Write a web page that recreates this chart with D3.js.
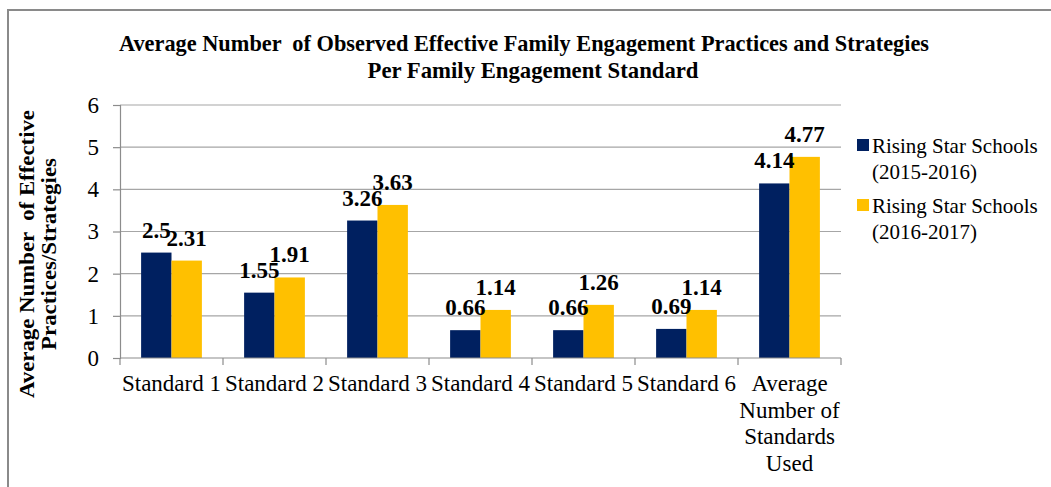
<!DOCTYPE html>
<html>
<head>
<meta charset="utf-8">
<script src="https://cdn.jsdelivr.net/npm/d3@7"></script>
<style>
  html, body { margin: 0; padding: 0; background: #fff; }
  svg { display: block; }
  svg text { font-family: "Times New Roman", "Liberation Serif", "DejaVu Serif", serif; white-space: pre; }
</style>
</head>
<body>
<svg id="chart" width="1051" height="487"></svg>
<script>
const categories = ["Standard 1", "Standard 2", "Standard 3", "Standard 4", "Standard 5", "Standard 6", "Average Number of Standards Used"];
const categoryLines = [["Standard 1"], ["Standard 2"], ["Standard 3"], ["Standard 4"], ["Standard 5"], ["Standard 6"], ["Average", "Number of", "Standards", "Used"]];
const seriesNames = ["Rising Star Schools (2015-2016)", "Rising Star Schools (2016-2017)"];
const legendLines = [["Rising Star Schools", "(2015-2016)"], ["Rising Star Schools", "(2016-2017)"]];
const values2015 = [2.5, 1.55, 3.26, 0.66, 0.66, 0.69, 4.14];
const values2017 = [2.31, 1.91, 3.63, 1.14, 1.26, 1.14, 4.77];
const yTicks = [0, 1, 2, 3, 4, 5, 6];
const colors = ["#002060", "#FFC000"];
const titleLines = ["Average Number  of Observed Effective Family Engagement Practices and Strategies", "Per Family Engagement Standard"];
const yTitleLines = ["Average Number  of Effective", "Practices/Strategies"];

const svg = d3.select("#chart");
const plot = { left: 120, right: 841, top: 105, bottom: 358 };

svg.append("rect").attr("x", 8).attr("y", 10).attr("width", 1100).attr("height", 600)
  .attr("fill", "none").attr("stroke", "#8a8a8a").attr("stroke-width", 2);

const x0 = d3.scaleBand().domain(categories).range([plot.left, plot.right]).padding(0);
const x1 = d3.scaleBand().domain(seriesNames).range([x0.bandwidth() * 0.205, x0.bandwidth() * 0.795]).padding(0);
const y = d3.scaleLinear().domain([0, 6]).range([plot.bottom, plot.top]);

svg.append("g").selectAll("line").data(yTicks.filter(d => d > 0)).join("line")
  .attr("x1", plot.left).attr("x2", plot.right)
  .attr("y1", d => y(d)).attr("y2", d => y(d))
  .attr("stroke", "#a6a6a6").attr("stroke-width", 1.2);

const yAxis = svg.append("g").attr("transform", `translate(${plot.left},0)`)
  .call(d3.axisLeft(y).tickValues(yTicks).tickSize(7).tickPadding(14).tickFormat(d3.format("d")));
yAxis.attr("font-family", null);
yAxis.select(".domain").attr("stroke", "#8c8c8c").attr("stroke-width", 1.2);
yAxis.selectAll(".tick line").attr("stroke", "#8c8c8c").attr("stroke-width", 1.2);
yAxis.selectAll(".tick text").attr("font-size", 23).attr("fill", "#000");

const data = categories.map((c, i) => ({ cat: c, vals: [values2015[i], values2017[i]] }));
const groups = svg.append("g").selectAll("g").data(data).join("g")
  .attr("transform", d => `translate(${x0(d.cat)},0)`);
groups.selectAll("rect").data(d => d.vals.map((v, j) => ({ v, s: seriesNames[j], j }))).join("rect")
  .attr("x", d => x1(d.s)).attr("width", x1.bandwidth())
  .attr("y", d => y(d.v)).attr("height", d => y(0) - y(d.v))
  .attr("fill", d => colors[d.j]);

const xAxisG = svg.append("g").attr("transform", `translate(0,${plot.bottom})`);
xAxisG.append("line").attr("x1", plot.left).attr("x2", plot.right).attr("y1", 0).attr("y2", 0)
  .attr("stroke", "#8c8c8c").attr("stroke-width", 1.2);
const bounds = categories.map(c => x0(c)).concat([plot.right]);
xAxisG.selectAll("line.tk").data(bounds).join("line").attr("class", "tk")
  .attr("x1", d => d).attr("x2", d => d).attr("y1", 0).attr("y2", 7)
  .attr("stroke", "#8c8c8c").attr("stroke-width", 1.2);

categories.forEach((c, i) => {
  const cx = x0(c) + x0.bandwidth() / 2;
  categoryLines[i].forEach((ln, k) => {
    svg.append("text").attr("x", cx).attr("y", 391 + k * 26.5)
      .attr("text-anchor", "middle").attr("font-size", 23).attr("fill", "#000")
      .text(ln);
  });
});

groups.selectAll("text").data(d => d.vals.map((v, j) => ({ v, s: seriesNames[j], j }))).join("text")
  .attr("x", d => x1(d.s) + x1.bandwidth() / 2)
  .attr("y", d => y(d.v) - 15)
  .attr("text-anchor", "middle").attr("font-size", 23).attr("font-weight", "bold")
  .attr("fill", "#000")
  .text(d => d.v);

const tBase = [51, 78], tLen = [810, 331], tCx = [524, 533];
titleLines.forEach((t, i) => {
  svg.append("text").attr("x", tCx[i]).attr("y", tBase[i]).attr("text-anchor", "middle")
    .attr("font-size", 24).attr("font-weight", "bold").attr("fill", "#000")
    .attr("textLength", tLen[i]).attr("lengthAdjust", "spacingAndGlyphs")
    .text(t);
});

const yt = [{ x: 34, len: 288 }, { x: 56, len: 192 }];
yTitleLines.forEach((t, i) => {
  svg.append("text").attr("transform", `translate(${yt[i].x},254) rotate(-90)`)
    .attr("text-anchor", "middle").attr("font-size", 21).attr("font-weight", "bold").attr("fill", "#000")
    .attr("textLength", yt[i].len).attr("lengthAdjust", "spacingAndGlyphs")
    .text(t);
});

const legY = [139, 199];
legendLines.forEach((lines, i) => {
  svg.append("rect").attr("x", 857).attr("y", legY[i]).attr("width", 12).attr("height", 12).attr("fill", colors[i]);
  lines.forEach((ln, k) => {
    svg.append("text").attr("x", 872).attr("y", legY[i] + 14 + k * 26)
      .attr("font-size", 21).attr("fill", "#000").text(ln);
  });
});
</script>
</body>
</html>
